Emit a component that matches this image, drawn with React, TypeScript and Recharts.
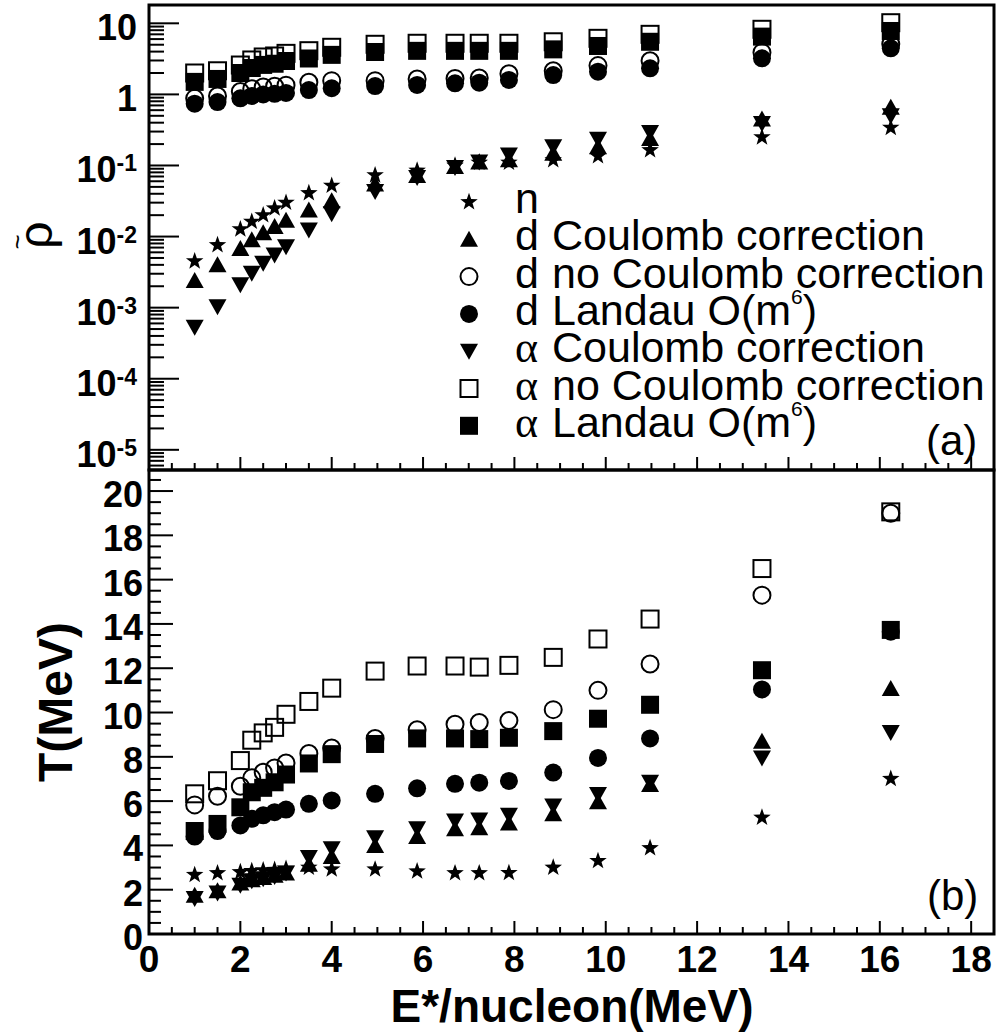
import React from 'react';
import { ScatterChart, Scatter, XAxis, YAxis, ReferenceArea } from 'recharts';

// ---------------- data ----------------
const xValues = [1.0, 1.5, 2.0, 2.25, 2.5, 2.75, 3.0, 3.5, 4.0, 4.95, 5.87, 6.7, 7.23, 7.88, 8.85, 9.83, 10.97, 13.42, 16.24];

// panel (a): rho tilde
const rhoN = [4.5e-3, 7.6e-3, 0.0127, 0.0162, 0.02, 0.025, 0.03, 0.041, 0.052, 0.073, 0.085, 0.1, 0.11, 0.11, 0.119, 0.136, 0.165, 0.25, 0.34];
const rhoDCoul = [2.4e-3, 4.0e-3, 6.8e-3, 9.0e-3, 0.0113, 0.0138, 0.017, 0.0237, 0.032, 0.055, 0.072, 0.097, 0.112, 0.12, 0.149, 0.184, 0.24, 0.45, 0.66];
const rhoDNoCoul = [0.88, 0.95, 1.1, 1.2, 1.27, 1.3, 1.35, 1.48, 1.56, 1.56, 1.65, 1.68, 1.7, 1.95, 2.15, 2.54, 2.98, 3.9, 5.1];
const rhoDLandau = [0.74, 0.78, 0.88, 0.95, 1.0, 1.02, 1.05, 1.15, 1.22, 1.31, 1.36, 1.43, 1.46, 1.6, 1.87, 2.09, 2.33, 3.22, 4.45];
const rhoACoul = [5.3e-4, 1.03e-3, 2.1e-3, 3.05e-3, 4.2e-3, 5.5e-3, 7.2e-3, 0.0124, 0.021, 0.043, 0.068, 0.094, 0.112, 0.141, 0.184, 0.233, 0.29, 0.39, 0.5];
const rhoANoCoul = [2.0, 2.15, 2.59, 3.05, 3.36, 3.47, 3.78, 4.12, 4.6, 5.07, 5.24, 5.24, 5.24, 5.24, 5.5, 6.15, 7.0, 8.24, 10.2];
const rhoALandau = [1.5, 1.65, 2.0, 2.35, 2.6, 2.7, 2.95, 3.2, 3.6, 3.95, 4.1, 4.1, 4.1, 4.1, 4.3, 4.8, 5.5, 6.5, 7.8];

// panel (b): T (MeV)
const tN = [2.67, 2.75, 2.8, 2.85, 2.88, 2.9, 2.95, 3.0, 2.92, 2.92, 2.83, 2.75, 2.75, 2.76, 3.0, 3.3, 3.88, 5.26, 7.01];
const tDCoul = [1.75, 1.95, 2.3, 2.45, 2.55, 2.65, 2.75, 3.15, 3.5, 4.0, 4.4, 4.75, 4.8, 5.01, 5.43, 5.97, 6.75, 8.7, 11.09];
const tDNoCoul = [5.83, 6.22, 6.67, 7.05, 7.3, 7.5, 7.72, 8.15, 8.4, 8.83, 9.22, 9.47, 9.55, 9.64, 10.13, 11.0, 12.19, 15.3, 19.0];
const tDLandau = [4.4, 4.65, 4.9, 5.2, 5.36, 5.5, 5.62, 5.88, 6.03, 6.33, 6.58, 6.78, 6.83, 6.91, 7.29, 7.95, 8.83, 11.04, 13.65];
const tACoul = [1.6, 1.85, 2.2, 2.4, 2.5, 2.6, 2.75, 3.45, 3.85, 4.35, 4.75, 5.1, 5.15, 5.36, 5.78, 6.3, 6.85, 7.95, 9.1];
const tANoCoul = [6.33, 6.92, 7.83, 8.75, 9.08, 9.33, 9.92, 10.5, 11.1, 11.87, 12.1, 12.1, 12.05, 12.13, 12.49, 13.32, 14.22, 16.5, 19.06];
const tALandau = [4.65, 4.97, 5.72, 6.4, 6.6, 6.85, 7.2, 7.7, 8.12, 8.58, 8.83, 8.83, 8.8, 8.86, 9.16, 9.72, 10.35, 11.91, 13.73];

// legend / series
const seriesKinds = ['star', 'triUp', 'circleOpen', 'circleFilled', 'triDown', 'squareOpen', 'squareFilled'];
const legendHead = ['n', 'd', 'd', 'd', 'α', 'α', 'α'];
const legendRest = ['', 'Coulomb correction', 'no Coulomb correction', 'Landau O(m', 'Coulomb correction', 'no Coulomb correction', 'Landau O(m'];
const legendSup = [false, false, false, true, false, false, true];

// axes
const xDomain = [0, 18.5];
const xTickValues = Array.from({ length: 38 }, (_, i) => i * 0.5);
const rhoDomain = [5.2e-6, 18.1];
const rhoTickValues = [6e-6, 7e-6, 8e-6, 9e-6].concat(
  ...[1e-5, 1e-4, 1e-3, 1e-2, 1e-1, 1].map((d) => [1, 2, 3, 4, 5, 6, 7, 8, 9].map((m) => m * d)),
  [10]
);
const tDomain = [0, 20.95];
const tTickValues = Array.from({ length: 42 }, (_, i) => i * 0.5);

// ---------------- helpers ----------------
const FONT = 'Liberation Sans, Arial, Helvetica, sans-serif';
const toPoints = (ys: number[]) => xValues.map((x, i) => ({ x, y: ys[i] }));

function marker(kind: string, cx: number, cy: number, key?: string) {
  switch (kind) {
    case 'star': {
      const pts: string[] = [];
      for (let i = 0; i < 10; i++) {
        const r = i % 2 === 0 ? 9.2 : 3.7;
        const a = (-90 + i * 36) * Math.PI / 180;
        pts.push(`${cx + r * Math.cos(a)},${cy + r * Math.sin(a)}`);
      }
      return <polygon key={key} points={pts.join(' ')} fill="#000" />;
    }
    case 'triUp':
      return <polygon key={key} points={`${cx},${cy - 8.5} ${cx - 9},${cy + 7.5} ${cx + 9},${cy + 7.5}`} fill="#000" />;
    case 'triDown':
      return <polygon key={key} points={`${cx},${cy + 8.5} ${cx - 9},${cy - 7.5} ${cx + 9},${cy - 7.5}`} fill="#000" />;
    case 'circleOpen':
      return <circle key={key} cx={cx} cy={cy} r={8.5} fill="none" stroke="#000" strokeWidth={2} />;
    case 'circleFilled':
      return <circle key={key} cx={cx} cy={cy} r={9} fill="#000" />;
    case 'squareOpen':
      return <rect key={key} x={cx - 8.5} y={cy - 8.5} width={17} height={17} fill="none" stroke="#000" strokeWidth={2} />;
    default:
      return <rect key={key} x={cx - 9} y={cy - 9} width={18} height={18} fill="#000" />;
  }
}

const shapeFor = (kind: string) => (p: any) => marker(kind, p.cx, p.cy);

const isMult = (v: number, s: number) => Math.abs(v / s - Math.round(v / s)) < 1e-6;

const makeXTick = (showLabel: boolean) => (props: any) => {
  const { x, y, payload } = props;
  const v = payload.value;
  const major = isMult(v, 2);
  return (
    <g>
      <line x1={x} x2={x} y1={y} y2={y - (major ? 13 : 7)} stroke="#000" strokeWidth={2} />
      {showLabel && major && (
        <text x={x} y={y + 38} textAnchor="middle" fontFamily={FONT} fontWeight="bold" fontSize={37} fill="#000">
          {String(v)}
        </text>
      )}
    </g>
  );
};

const LogYTick = (props: any) => {
  const { x, y, payload } = props;
  const v = payload.value;
  const lg = Math.log10(v);
  const e = Math.round(lg);
  const major = Math.abs(lg - e) < 1e-6;
  return (
    <g>
      <line x1={x} x2={x + (major ? 30 : 15)} y1={y} y2={y} stroke="#000" strokeWidth={2} />
      {major && (
        <text x={x - 12} y={y + 17} textAnchor="end" fontFamily={FONT} fontWeight="bold" fontSize={36} fill="#000">
          {e === 1 ? '10' : e === 0 ? '1' : (
            <>
              <tspan>10</tspan>
              <tspan dy={-11} fontSize={23}>{String(e)}</tspan>
            </>
          )}
        </text>
      )}
    </g>
  );
};

const LinYTick = (props: any) => {
  const { x, y, payload } = props;
  const v = payload.value;
  const major = isMult(v, 2);
  return (
    <g>
      <line x1={x} x2={x + (major ? 24 : 12)} y1={y} y2={y} stroke="#000" strokeWidth={2} />
      {major && (
        <text x={x - 6} y={y + 16} textAnchor="end" fontFamily={FONT} fontWeight="bold" fontSize={36} fill="#000">
          {String(v)}
        </text>
      )}
    </g>
  );
};

const rhoSeries = [rhoN, rhoDCoul, rhoDNoCoul, rhoDLandau, rhoACoul, rhoANoCoul, rhoALandau];
const tSeries = [tN, tDCoul, tDNoCoul, tDLandau, tACoul, tANoCoul, tALandau];

export default function App() {
  const legendX = 469;
  const textX1 = 515;
  const textX2 = 552;
  const baseline0 = 213;
  const rowStep = 37.3;
  return (
    <div style={{ position: 'absolute', left: 0, top: 0, width: 997, height: 1034, background: '#fff', overflow: 'hidden' }}>
      <div style={{ position: 'absolute', left: 0, top: 0 }}>
        <ScatterChart width={997} height={475} margin={{ top: 5, right: 3, bottom: 4, left: 0 }}>
          <XAxis type="number" dataKey="x" domain={xDomain} ticks={xTickValues} interval={0} allowDataOverflow
            height={1} tickSize={0} tickMargin={0} axisLine={false} tickLine={false} tick={makeXTick(false)} />
          <YAxis type="number" dataKey="y" scale="log" domain={rhoDomain} ticks={rhoTickValues} interval={0} allowDataOverflow
            width={149} tickSize={0} tickMargin={0} axisLine={false} tickLine={false} tick={LogYTick} />
          {rhoSeries.map((s, i) => (
            <Scatter key={i} data={toPoints(s)} isAnimationActive={false} shape={shapeFor(seriesKinds[i])} />
          ))}
          <ReferenceArea x1={xDomain[0]} x2={xDomain[1]} y1={rhoDomain[0]} y2={rhoDomain[1]} fill="none" fillOpacity={0}
            stroke="#000" strokeWidth={3} ifOverflow="visible" />
        </ScatterChart>
      </div>
      <div style={{ position: 'absolute', left: 0, top: 0 }}>
        <ScatterChart width={997} height={1034} margin={{ top: 470, right: 3, bottom: 99, left: 0 }}>
          <XAxis type="number" dataKey="x" domain={xDomain} ticks={xTickValues} interval={0} allowDataOverflow
            height={1} tickSize={0} tickMargin={0} axisLine={false} tickLine={false} tick={makeXTick(true)} />
          <YAxis type="number" dataKey="y" domain={tDomain} ticks={tTickValues} interval={0} allowDataOverflow
            width={149} tickSize={0} tickMargin={0} axisLine={false} tickLine={false} tick={LinYTick} />
          {tSeries.map((s, i) => (
            <Scatter key={i} data={toPoints(s)} isAnimationActive={false} shape={shapeFor(seriesKinds[i])} />
          ))}
          <ReferenceArea x1={xDomain[0]} x2={xDomain[1]} y1={tDomain[0]} y2={tDomain[1]} fill="none" fillOpacity={0}
            stroke="#000" strokeWidth={3} ifOverflow="visible" />
        </ScatterChart>
      </div>
      <svg width={997} height={1034} style={{ position: 'absolute', left: 0, top: 0, pointerEvents: 'none' }}>
        {seriesKinds.map((k, i) => marker(k, legendX, baseline0 + i * rowStep - 11, 'm' + i))}
        {legendHead.map((h, i) => (
          <text key={'h' + i} x={textX1} y={baseline0 + i * rowStep} fontFamily={h === 'α' ? 'Liberation Serif, Times New Roman, serif' : FONT}
            fontSize={h === 'α' ? 44 : 43} fill="#000">{h}</text>
        ))}
        {legendRest.map((r, i) => r && (
          <text key={'r' + i} x={textX2} y={baseline0 + i * rowStep} fontFamily={FONT} fontSize={43} fill="#000">
            {r}
            {legendSup[i] && (
              <>
                <tspan dy={-21} fontSize={21}>6</tspan>
                <tspan dy={21}>)</tspan>
              </>
            )}
          </text>
        ))}
        <text x={926} y={455} fontFamily={FONT} fontSize={42} fill="#000">(a)</text>
        <text x={927} y={910} fontFamily={FONT} fontSize={42} fill="#000">(b)</text>
        <text x={572} y={1022} textAnchor="middle" fontFamily={FONT} fontWeight="bold" fontSize={46} fill="#000">E*/nucleon(MeV)</text>
        <text x={72} y={702} transform="rotate(-90 72 702)" textAnchor="middle" fontFamily={FONT} fontWeight="bold" fontSize={48} fill="#000">T(MeV)</text>
        <text x={52} y={235} transform="rotate(-90 52 235)" textAnchor="middle" fontFamily={FONT} fontSize={48} fill="#000">ρ</text>
        <text x={26} y={242} transform="rotate(-90 26 242)" textAnchor="middle" fontFamily={FONT} fontSize={26} fill="#000">~</text>
      </svg>
    </div>
  );
}
